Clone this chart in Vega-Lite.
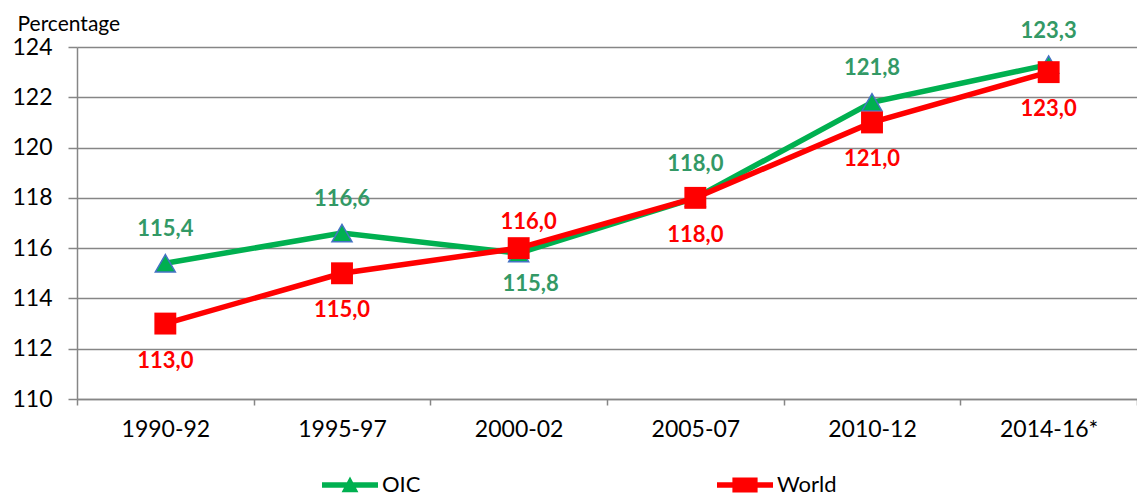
{
  "$schema": "https://vega.github.io/schema/vega-lite/v6.json",
  "width": 1060,
  "height": 352,
  "autosize": {"type": "none"},
  "padding": {"left": 77, "top": 47, "right": 0, "bottom": 102},
  "background": "white",
  "config": {
    "view": {"stroke": null},
    "font": "Lato",
    "locale": {"number": {"decimal": ",", "thousands": ".", "grouping": [3], "currency": ["", " €"]}}
  },
  "data": {
    "values": [
      {"period": "1990-92", "series": "OIC", "value": 115.4},
      {"period": "1995-97", "series": "OIC", "value": 116.6},
      {"period": "2000-02", "series": "OIC", "value": 115.8},
      {"period": "2005-07", "series": "OIC", "value": 118.0},
      {"period": "2010-12", "series": "OIC", "value": 121.8},
      {"period": "2014-16*", "series": "OIC", "value": 123.3},
      {"period": "1990-92", "series": "World", "value": 113.0},
      {"period": "1995-97", "series": "World", "value": 115.0},
      {"period": "2000-02", "series": "World", "value": 116.0},
      {"period": "2005-07", "series": "World", "value": 118.0},
      {"period": "2010-12", "series": "World", "value": 121.0},
      {"period": "2014-16*", "series": "World", "value": 123.0}
    ]
  },
  "encoding": {
    "x": {
      "field": "period",
      "type": "ordinal",
      "sort": ["1990-92", "1995-97", "2000-02", "2005-07", "2010-12", "2014-16*"],
      "scale": {"type": "band", "paddingInner": 0, "paddingOuter": 0},
      "axis": {
        "title": null,
        "labelAngle": 0,
        "tickBand": "extent",
        "tickSize": 6,
        "tickColor": "#868686",
        "tickWidth": 1.5,
        "domainColor": "#868686",
        "domainWidth": 1.5,
        "labelPadding": 13,
        "labelFontSize": 23,
        "labelColor": "#000000",
        "grid": false
      }
    },
    "y": {
      "field": "value",
      "type": "quantitative",
      "scale": {"domain": [110, 124], "nice": false, "zero": false},
      "axis": {
        "title": "Percentage",
        "titleAngle": 0,
        "titleAlign": "left",
        "titleBaseline": "alphabetic",
        "titleX": -60,
        "titleY": -17,
        "titleFontSize": 21,
        "titleFontWeight": "normal",
        "titleColor": "#000000",
        "values": [110, 112, 114, 116, 118, 120, 122, 124],
        "grid": true,
        "gridColor": "#868686",
        "gridWidth": 1.5,
        "tickSize": 9,
        "tickColor": "#868686",
        "tickWidth": 1.5,
        "domainColor": "#868686",
        "domainWidth": 1.5,
        "labelPadding": 16,
        "labelFontSize": 23,
        "labelColor": "#000000"
      }
    }
  },
  "layer": [
    {
      "transform": [{"filter": "datum.series === 'OIC'"}],
      "mark": {"type": "line", "strokeWidth": 5.5},
      "encoding": {
        "color": {
          "field": "series",
          "type": "nominal",
          "scale": {"domain": ["OIC", "World"], "range": ["#00B050", "#FF0000"]},
          "legend": {
            "title": null,
            "orient": "none",
            "legendX": 245,
            "legendY": 410,
            "direction": "horizontal",
            "columnPadding": 296,
            "padding": 0,
            "labelFontSize": 22,
            "labelColor": "#000000",
            "labelOffset": 4,
            "symbolSize": 3136,
            "encode": {
              "symbols": {
                "update": {
                  "shape": {"signal": "datum.value === 'OIC' ? 'M-1,-0.1L1,-0.1L1,0.1L-1,0.1Z M0,-0.3L0.3,0.26L-0.3,0.26Z' : 'M-1,-0.1L1,-0.1L1,0.1L-1,0.1Z M-0.45,-0.27L0.45,-0.27L0.45,0.27L-0.45,0.27Z'"},
                  "fill": {"signal": "datum.value === 'OIC' ? '#00B050' : '#FF0000'"},
                  "stroke": {"value": "transparent"},
                  "strokeWidth": {"value": 0},
                  "opacity": {"value": 1},
                  "fillOpacity": {"value": 1}
                }
              }
            }
          }
        }
      }
    },
    {
      "transform": [{"filter": "datum.series === 'OIC'"}],
      "mark": {"type": "point", "shape": "triangle-up", "filled": true, "fill": "#00B050", "stroke": "#4472C4", "strokeWidth": 1.5, "size": 400, "opacity": 1}
    },
    {
      "transform": [{"filter": "datum.series === 'World'"}],
      "mark": {"type": "line", "strokeWidth": 5.5},
      "encoding": {
        "color": {"field": "series", "type": "nominal"}
      }
    },
    {
      "transform": [{"filter": "datum.series === 'World'"}],
      "mark": {"type": "square", "size": 480, "color": "#FF0000", "opacity": 1}
    },
    {
      "transform": [{"filter": "datum.series === 'OIC' && datum.period !== '2000-02'"}],
      "mark": {"type": "text", "dy": -34, "fontSize": 22, "fontWeight": "bold", "color": "#339966"},
      "encoding": {"text": {"field": "value", "type": "quantitative", "format": ".1f"}}
    },
    {
      "transform": [{"filter": "datum.series === 'OIC' && datum.period === '2000-02'"}],
      "mark": {"type": "text", "dy": 31, "dx": 12, "fontSize": 22, "fontWeight": "bold", "color": "#339966"},
      "encoding": {"text": {"field": "value", "type": "quantitative", "format": ".1f"}}
    },
    {
      "transform": [{"filter": "datum.series === 'World' && datum.period !== '2000-02'"}],
      "mark": {"type": "text", "dy": 37, "fontSize": 22, "fontWeight": "bold", "color": "#FF0000"},
      "encoding": {"text": {"field": "value", "type": "quantitative", "format": ".1f"}}
    },
    {
      "transform": [{"filter": "datum.series === 'World' && datum.period === '2000-02'"}],
      "mark": {"type": "text", "dy": -26, "dx": 10, "fontSize": 22, "fontWeight": "bold", "color": "#FF0000"},
      "encoding": {"text": {"field": "value", "type": "quantitative", "format": ".1f"}}
    }
  ]
}
